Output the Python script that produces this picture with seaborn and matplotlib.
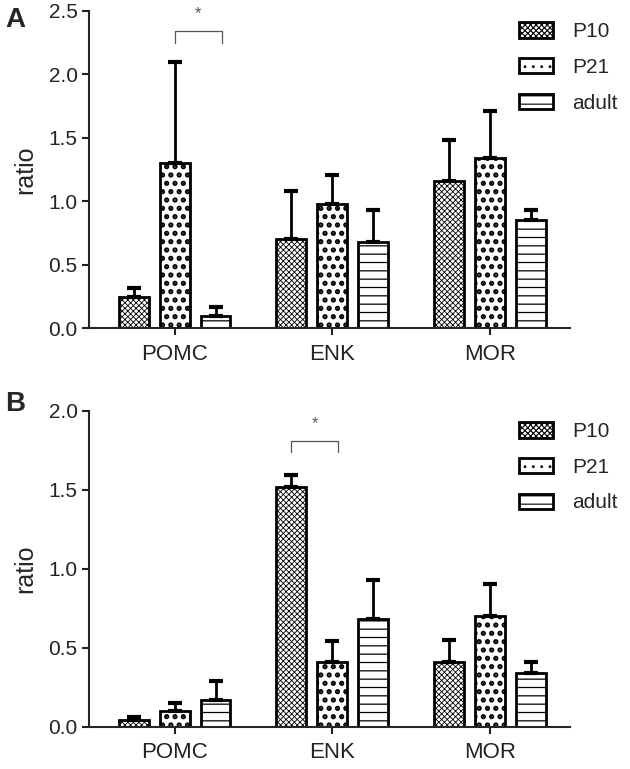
import pandas as pd
import matplotlib.pyplot as plt
import matplotlib.patches as mpatches
import seaborn as sns

# values (mean and upper error)
genes = ['POMC', 'ENK', 'MOR']
groups = ['P10', 'P21', 'adult']

mean_a = {'P10': [0.25, 0.70, 1.16], 'P21': [1.30, 0.98, 1.34], 'adult': [0.10, 0.68, 0.85]}
err_a = {'P10': [0.07, 0.38, 0.32], 'P21': [0.80, 0.23, 0.37], 'adult': [0.07, 0.25, 0.08]}

mean_b = {'P10': [0.04, 1.52, 0.41], 'P21': [0.10, 0.41, 0.70], 'adult': [0.17, 0.68, 0.34]}
err_b = {'P10': [0.02, 0.07, 0.14], 'P21': [0.05, 0.13, 0.20], 'adult': [0.12, 0.25, 0.07]}

hatches = {'P10': 'xxxxxx', 'P21': '..', 'adult': '--'}
hatch_lw = {'P10': 0.6, 'P21': 2.5, 'adult': 0.9}

sns.set_style('ticks')
plt.rcParams['font.family'] = ['Liberation Sans', 'DejaVu Sans']
plt.rcParams['hatch.linewidth'] = 0.8


def style_patch(p, g):
    p.set_hatch(hatches[g])
    if hasattr(p, 'set_hatch_linewidth'):
        p.set_hatch_linewidth(hatch_lw[g])


def draw_panel(ax, means, errs, ymax, letter, letter_y, sig_pair, sig_y):
    rows = []
    for g in groups:
        for i, gene in enumerate(genes):
            rows.append({'gene': gene, 'group': g, 'ratio': means[g][i]})
    df = pd.DataFrame(rows)
    sns.barplot(data=df, x='gene', y='ratio', hue='group', order=genes, hue_order=groups,
                palette=['white'] * 3, edgecolor='black', linewidth=2, width=0.78, gap=0.27,
                errorbar=None, legend=False, ax=ax)
    centers = {}
    for g, cont in zip(groups, ax.containers):
        xs = []
        for p in cont.patches:
            style_patch(p, g)
            xs.append(p.get_x() + p.get_width() / 2)
        centers[g] = xs
        ax.errorbar(xs, means[g], yerr=[[0] * len(xs), errs[g]], fmt='none', ecolor='black',
                    elinewidth=2, capsize=5, capthick=3, zorder=1)

    # significance bracket
    (g1, i1), (g2, i2) = sig_pair
    x1, x2 = centers[g1][i1], centers[g2][i2] + 0.04
    top, low = sig_y
    ax.plot([x1, x1, x2, x2], [low, top, top, low], color='#555555', lw=0.9, clip_on=False)
    ax.text((x1 + x2) / 2, top + (top - low) * 0.9, '*', ha='center', va='bottom',
            fontsize=12, color='#555555')

    ax.set_xlim(-0.54, 2.51)
    ax.set_ylim(0, ymax)
    ax.set_yticks([v / 2 for v in range(int(ymax * 2) + 1)])
    ax.yaxis.set_major_formatter(plt.FormatStrFormatter('%.1f'))
    ax.set_xlabel('')
    ax.set_ylabel('ratio', fontsize=18, labelpad=8)
    ax.tick_params(axis='y', labelsize=15, width=1.5, length=5, colors='#222222')
    ax.tick_params(axis='x', labelsize=16, width=1.5, length=5, colors='#222222', pad=6)
    for s in ['left', 'bottom']:
        ax.spines[s].set_linewidth(1.5)
    sns.despine(ax=ax)

    handles = []
    for g in groups:
        h = mpatches.Patch(facecolor='white', edgecolor='black', linewidth=2, label=g)
        style_patch(h, g)
        handles.append(h)
    ax.legend(handles=handles, loc='upper left', bbox_to_anchor=(0.876, 0.99),
              frameon=False, fontsize=15, handlelength=1.65, handleheight=0.75,
              labelspacing=0.8, handletextpad=0.9, borderaxespad=0)
    ax.text(-0.175, letter_y, letter, transform=ax.transAxes, fontsize=20,
            fontweight='bold', va='center', ha='left')


fig = plt.figure(figsize=(6.3, 7.69), dpi=100)
ax_a = fig.add_axes([0.142, 0.573, 0.763, 0.413])
ax_b = fig.add_axes([0.142, 0.055, 0.763, 0.411])

draw_panel(ax_a, mean_a, err_a, 2.5, 'A', 0.972, (('P21', 0), ('adult', 0)), (2.34, 2.25))
draw_panel(ax_b, mean_b, err_b, 2.0, 'B', 1.022, (('P10', 1), ('P21', 1)), (1.81, 1.74))

fig.savefig('out.png', dpi=100)
